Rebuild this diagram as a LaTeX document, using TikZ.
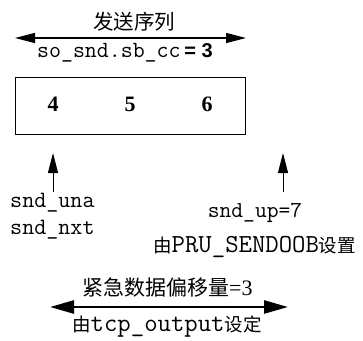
\documentclass[tikz,border=0pt]{standalone}
\usepackage{fontspec}
\setmainfont{Liberation Serif}
\setsansfont{Liberation Sans}
\newfontfamily\cjk{Noto Sans CJK SC}
\usetikzlibrary{arrows.meta}

\begin{document}
\begin{tikzpicture}[x=1pt, y=-1pt]
    \tikzset{
        lbl/.style={inner sep=0pt, font=\fontsize{23.4}{24}\selectfont\ttfamily},
        num/.style={inner sep=0pt, font=\fontsize{22}{24}\selectfont\bfseries},
        headS/.tip={Triangle[length=20pt, width=10pt]},
        headL/.tip={Triangle[length=24pt, width=13pt]}
    }
    \useasboundingbox (0,0) rectangle (363,340);

    % send buffer
    \node[draw, line width=1pt, minimum width=230pt, minimum height=57pt,
          inner sep=0pt, anchor=north west] (buf) at (15,77) {};
    \node[num] (b4) at (53,104) {4};
    \node[num] (b5) at (130,104) {5};
    \node[num] (b6) at (207,104) {6};

    % sequence span above the buffer
    \node[inner sep=0pt, font=\fontsize{20.5}{22}\selectfont\cjk] (seq) at (134,22) {发送序列};
    \coordinate (seqL) at (15,38);
    \coordinate (seqR) at (246,38);
    \draw[line width=1.3pt, {headS}-{headS}] (seqL) -- (seqR);
    \node[lbl, font=\fontsize{23.2}{24}\selectfont\ttfamily, anchor=west] (cc) at (37,53)
        {so\_snd.sb\_cc\,{\sffamily\bfseries\fontsize{20}{22}\selectfont = 3}};

    % pointers below the buffer
    \node[lbl, anchor=west] (una) at (10,203) {snd\_una};
    \node[lbl, anchor=west] (nxt) at (10,230) {snd\_nxt};
    \coordinate (unaTail) at (53,192);
    \coordinate (unaTip) at (53,153);
    \draw[line width=1pt, -{headS}] (unaTail) -- (unaTip);

    \node[lbl, font=\fontsize{22.9}{24}\selectfont\ttfamily] (up) at (255,213) {snd\_up=7};
    \node[inner sep=0pt, anchor=west] (pru) at (153,247)
        {\fontsize{18.5}{22}\selectfont\cjk 由\fontsize{26}{28}\selectfont\ttfamily PRU\_SENDOOB\fontsize{18.5}{22}\selectfont\cjk 设置};
    \coordinate (upTail) at (283,192);
    \coordinate (upTip) at (283,153);
    \draw[line width=1pt, -{headS}] (upTail) -- (upTip);

    % urgent offset
    \node[inner sep=0pt, anchor=west] (urg) at (82,288)
        {\fontsize{21}{22}\selectfont\cjk 紧急数据偏移量\fontsize{22}{22}\selectfont\rmfamily =3};
    \coordinate (urgL) at (50,307);
    \coordinate (urgR) at (288,307);
    \draw[line width=2.6pt, {headL}-{headL}] (urgL) -- (urgR);
    \node[inner sep=0pt, anchor=west] (tcpo) at (72,327)
        {\fontsize{18.5}{22}\selectfont\cjk 由\fontsize{26}{28}\selectfont\ttfamily tcp\_output\fontsize{18.5}{22}\selectfont\cjk 设定};
\end{tikzpicture}
\end{document}
